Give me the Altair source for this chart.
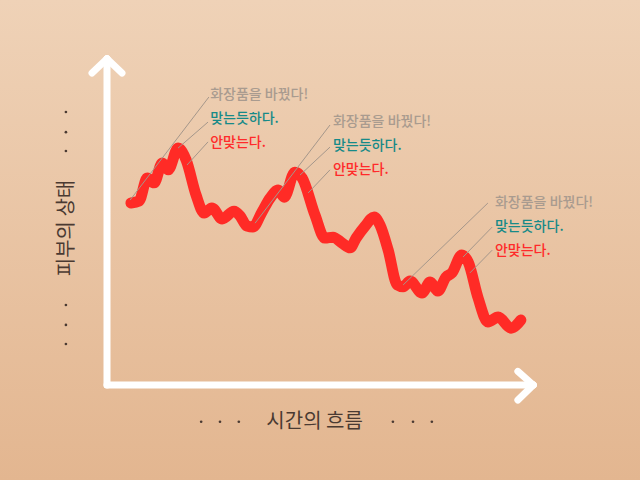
import altair as alt
import pandas as pd

# --- skin condition over time (x: time 0-100, y: condition 0-100) ---
time_pts = [5.6, 7.5, 9.4, 11.0, 12.9, 14.3, 16.6, 18.5, 20.8, 22.7, 24.5, 26.9, 29.7, 31.1,
            32.7, 34.1, 36.2, 38.1, 40.0, 41.4, 43.9, 45.6, 48.6, 50.9, 52.8, 54.9, 56.8, 58.2,
            60.3, 62.4, 63.8, 65.7, 67.8, 69.2, 70.8, 73.6, 75.5, 77.3, 79.2, 80.6, 82.9, 84.4,
            86.7, 89.0, 91.4, 94.4, 96.7]
cond_pts = [56.0, 56.6, 63.7, 62.2, 68.3, 66.2, 72.9, 69.2, 58.5, 52.9, 54.5, 51.1, 53.5, 52.0,
            48.9, 48.6, 53.2, 57.5, 60.0, 57.8, 65.5, 63.7, 52.3, 45.2, 45.5, 43.7, 42.2, 45.2,
            48.9, 51.7, 49.2, 41.5, 30.8, 30.2, 32.0, 28.3, 31.7, 28.9, 33.2, 34.5, 40.0, 37.8,
            26.8, 19.4, 20.9, 17.5, 20.0]

# --- annotations ---
ann_text = ["화장품을 바꿨다!", "맞는듯하다.", "안맞는다."] * 3
ann_kind = ["changed", "fits", "nofit"] * 3
ann_t = [24.1, 24.1, 24.1, 52.8, 52.8, 52.8, 90.65, 90.65, 90.65]
ann_v = [89.2, 81.8, 74.5, 80.9, 73.5, 66.2, 56.0, 48.6, 41.2]
kind_domain = ["changed", "fits", "nofit"]
kind_colors = ["#a99b8f", "#178a88", "#ff2a2a"]

lead_t1 = [23.8, 23.6, 23.6, 52.1, 52.1, 52.1, 89.0, 90.0, 90.0]
lead_v1 = [88.6, 80.9, 74.8, 80.0, 73.2, 66.2, 56.0, 48.6, 41.5]
lead_t2 = [5.4, 16.6, 18.7, 34.6, 45.1, 47.0, 69.2, 83.2, 84.8]
lead_v2 = [56.9, 72.9, 67.7, 49.8, 64.6, 59.1, 30.8, 39.4, 34.5]

# --- axis arrows (shaft + chevrons) ---
arr_t1 = [0, 0, 0, 0, 99.6, 99.6]
arr_v1 = [0, 100.4, 100.4, 0, 0, 0]
arr_t2 = [0, -3.5, 3.5, 99.6, 96.0, 96.0]
arr_v2 = [100.4, 96.0, 96.0, 0, 4.2, -4.6]

# --- axis titles and decorative dots ---
x_title = "시간의 흐름"
y_title = "피부의 상태"
x_title_pos = (48.5, -11.5)
y_title_pos = (-9.4, 48.3)
dot_t = [22.0, 26.4, 30.8, 66.8, 71.5, 75.9, -9.6, -9.6, -9.6, -9.6, -9.6, -9.6]
dot_v = [-11.3, -11.3, -11.3, -11.3, -11.3, -11.3, 84.0, 77.8, 72.0, 24.6, 18.5, 12.6]

xs = alt.Scale(domain=[0, 100], range=[107, 535])
ys = alt.Scale(domain=[0, 100], range=[385, 60])

bg = alt.Chart(pd.DataFrame({"a": [0]})).mark_rect(
    fill=alt.LinearGradient(
        gradient="linear",
        stops=[alt.GradientStop(color="#efd2b7", offset=0),
               alt.GradientStop(color="#e3b690", offset=1)],
        x1=0, x2=0, y1=0, y2=1),
).encode(x=alt.value(0), x2=alt.value(640), y=alt.value(0), y2=alt.value(480))

arrows = alt.Chart(pd.DataFrame({"t1": arr_t1, "v1": arr_v1, "t2": arr_t2, "v2": arr_v2})).mark_rule(
    color="white", strokeWidth=7, strokeCap="round"
).encode(
    x=alt.X("t1:Q", scale=xs, axis=None), y=alt.Y("v1:Q", scale=ys, axis=None),
    x2="t2:Q", y2="v2:Q")

line = alt.Chart(pd.DataFrame({"t": time_pts, "v": cond_pts})).mark_line(
    color="#ff2b26", strokeWidth=11, strokeCap="round", strokeJoin="round", interpolate="monotone"
).encode(x=alt.X("t:Q", scale=xs, axis=None), y=alt.Y("v:Q", scale=ys, axis=None))

leaders = alt.Chart(pd.DataFrame({"t1": lead_t1, "v1": lead_v1, "t2": lead_t2, "v2": lead_v2})).mark_rule(
    color="#a5978b", strokeWidth=1
).encode(
    x=alt.X("t1:Q", scale=xs, axis=None), y=alt.Y("v1:Q", scale=ys, axis=None),
    x2="t2:Q", y2="v2:Q")

labels = alt.Chart(pd.DataFrame({"t": ann_t, "v": ann_v, "txt": ann_text, "kind": ann_kind})).mark_text(
    align="left", baseline="middle", font="Noto Sans CJK KR", fontSize=14, fontWeight=500
).encode(
    x=alt.X("t:Q", scale=xs, axis=None), y=alt.Y("v:Q", scale=ys, axis=None),
    text="txt:N",
    color=alt.Color("kind:N", scale=alt.Scale(domain=kind_domain, range=kind_colors), legend=None))

xt = alt.Chart(pd.DataFrame({"t": [x_title_pos[0]], "v": [x_title_pos[1]], "txt": [x_title]})).mark_text(
    align="center", baseline="middle", font="Noto Sans CJK KR", fontSize=20, color="#4a3a32"
).encode(x=alt.X("t:Q", scale=xs, axis=None), y=alt.Y("v:Q", scale=ys, axis=None), text="txt:N")

yt = alt.Chart(pd.DataFrame({"t": [y_title_pos[0]], "v": [y_title_pos[1]], "txt": [y_title]})).mark_text(
    align="center", baseline="middle", font="Noto Sans CJK KR", fontSize=20, color="#4a3a32", angle=270
).encode(x=alt.X("t:Q", scale=xs, axis=None), y=alt.Y("v:Q", scale=ys, axis=None), text="txt:N")

dots = alt.Chart(pd.DataFrame({"t": dot_t, "v": dot_v})).mark_circle(
    size=7, color="#4a3a32", opacity=1
).encode(x=alt.X("t:Q", scale=xs, axis=None), y=alt.Y("v:Q", scale=ys, axis=None))

chart = alt.layer(bg, arrows, line, leaders, labels, xt, yt, dots).properties(
    width=640, height=480, autosize=alt.AutoSizeParams(type="none"), padding=0,
    background="#e8c3a2"
).configure_view(stroke=None)

chart.save("out.html", embed_options={"renderer": "svg", "actions": False})
